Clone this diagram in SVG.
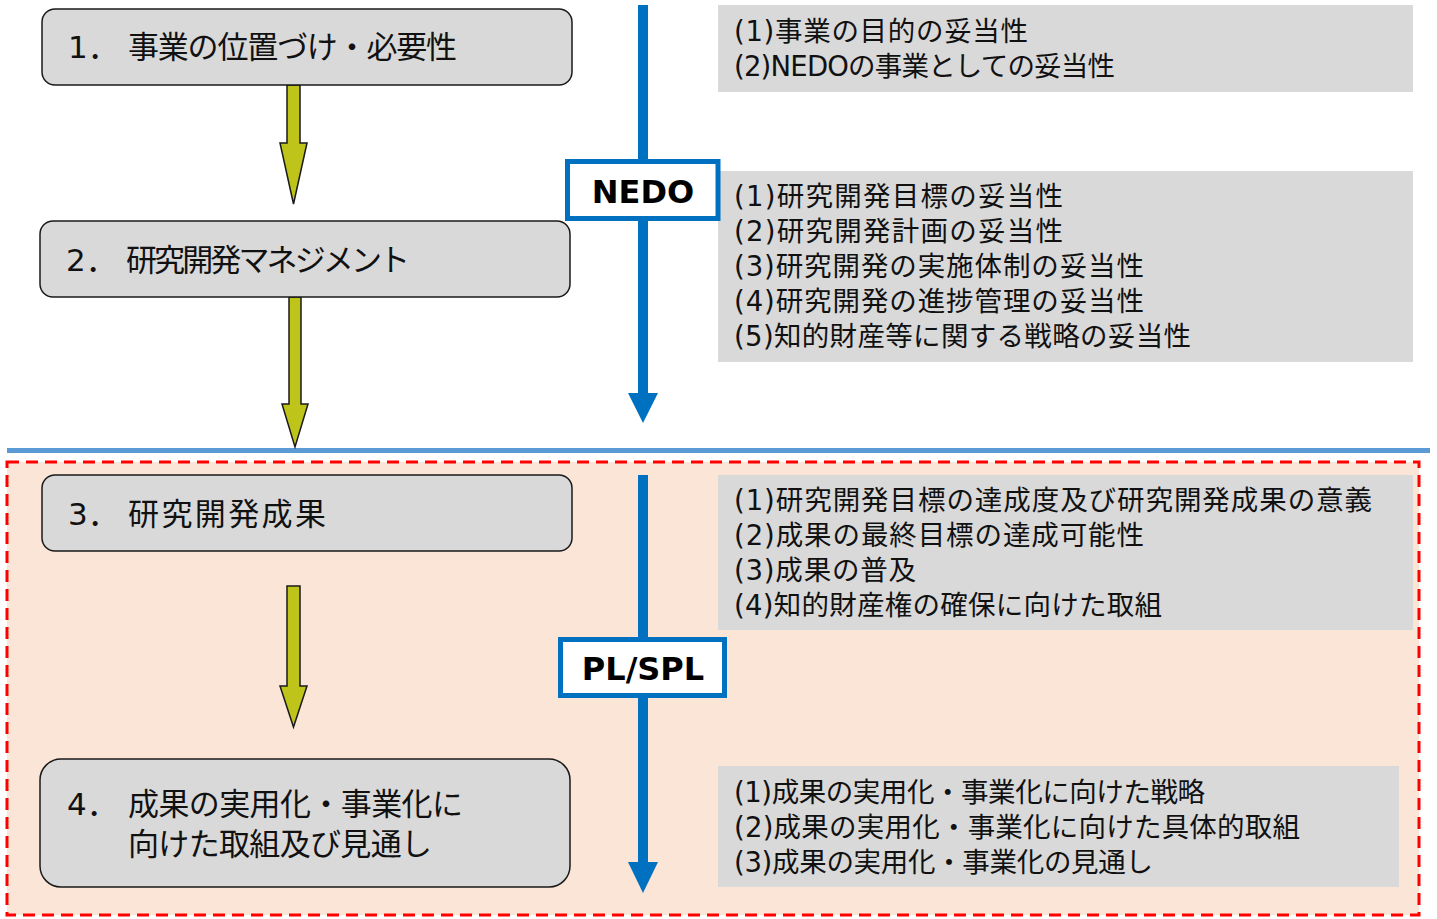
<svg xmlns="http://www.w3.org/2000/svg" width="1437" height="919" viewBox="0 0 1437 919">
<style>
.node{fill:#D9D9D9;stroke:#1a1a1a;stroke-width:1.5}
.nt{font-family:"DejaVu Sans","Noto Sans CJK JP",sans-serif;font-size:31px;fill:#111}
.box{fill:#D9D9D9}
.bt{font-family:"DejaVu Sans","Noto Sans CJK JP",sans-serif;font-size:27.5px;fill:#111}
.ya{fill:#BFC41B;stroke:#1a1a1a;stroke-width:1.5;stroke-linejoin:miter}
.bl{stroke:#0070C0;stroke-width:10;fill:none}
.bh{fill:#0070C0}
.lab{fill:#fff;stroke:#0070C0;stroke-width:5}
.lt{font-family:"DejaVu Sans","Noto Sans CJK JP",sans-serif;font-size:32px;font-weight:bold;fill:#000;text-anchor:middle}
</style>
<rect width="1437" height="919" fill="#fff"/>
<g id="area">
<rect x="7" y="462" width="1412" height="453" fill="#FBE5D6" stroke="#FF0000" stroke-width="3" stroke-dasharray="12 7"/>
</g>
<line id="separator" x1="7" y1="450.5" x2="1430" y2="450.5" stroke="#5B9BD5" stroke-width="5"/>
<g id="boxA"><rect class="box" x="718" y="5" width="695" height="87"/>
<text class="bt" x="734" y="41" textLength="294" lengthAdjust="spacing">(1)事業の目的の妥当性</text>
<text class="bt" x="734" y="76" textLength="381" lengthAdjust="spacing">(2)NEDOの事業としての妥当性</text></g>
<g id="boxB"><rect class="box" x="718" y="171" width="695" height="191"/>
<text class="bt" x="734" y="206" textLength="329" lengthAdjust="spacing">(1)研究開発目標の妥当性</text>
<text class="bt" x="734" y="241" textLength="329" lengthAdjust="spacing">(2)研究開発計画の妥当性</text>
<text class="bt" x="734" y="276" textLength="410" lengthAdjust="spacing">(3)研究開発の実施体制の妥当性</text>
<text class="bt" x="734" y="311" textLength="410" lengthAdjust="spacing">(4)研究開発の進捗管理の妥当性</text>
<text class="bt" x="734" y="346" textLength="457" lengthAdjust="spacing">(5)知的財産等に関する戦略の妥当性</text></g>
<g id="boxC"><rect class="box" x="718" y="475" width="695" height="155"/>
<text class="bt" x="734" y="510" textLength="638" lengthAdjust="spacing">(1)研究開発目標の達成度及び研究開発成果の意義</text>
<text class="bt" x="734" y="545" textLength="410" lengthAdjust="spacing">(2)成果の最終目標の達成可能性</text>
<text class="bt" x="734" y="580" textLength="182" lengthAdjust="spacing">(3)成果の普及</text>
<text class="bt" x="734" y="615" textLength="428" lengthAdjust="spacing">(4)知的財産権の確保に向けた取組</text></g>
<g id="boxD"><rect class="box" x="718" y="766" width="681" height="121"/>
<text class="bt" x="734" y="802" textLength="471" lengthAdjust="spacing">(1)成果の実用化・事業化に向けた戦略</text>
<text class="bt" x="734" y="837" textLength="566" lengthAdjust="spacing">(2)成果の実用化・事業化に向けた具体的取組</text>
<text class="bt" x="734" y="872" textLength="419" lengthAdjust="spacing">(3)成果の実用化・事業化の見通し</text></g>
<g id="connectors">
<polygon class="ya" points="287,85 300,85 300,143 307,143 293.5,204 280,143 287,143"/>
<polygon class="ya" points="289,297 301,297 301,404 308,404 295,447 282,404 289,404"/>
<polygon class="ya" points="287,586 300,586 300,686 307,686 293.5,727 280,686 287,686"/>
<line class="bl" x1="643" y1="5" x2="643" y2="395"/>
<polygon class="bh" points="628,393 658,393 643,423"/>
<line class="bl" x1="643" y1="475" x2="643" y2="864"/>
<polygon class="bh" points="628,862 658,862 643,893"/>
</g>
<g id="nedo"><rect class="lab" x="567.5" y="161.5" width="150.5" height="57"/>
<text class="lt" x="643" y="203">NEDO</text></g>
<g id="plspl"><rect class="lab" x="560.5" y="639.5" width="164" height="56"/>
<text class="lt" x="643" y="680">PL/SPL</text></g>
<g id="node1"><rect class="node" x="42" y="9" width="530" height="76" rx="13"/>
<text class="nt" x="68" y="58">1．</text><text class="nt" x="128" y="58" textLength="329" lengthAdjust="spacing">事業の位置づけ・必要性</text></g>
<g id="node2"><rect class="node" x="40" y="221" width="530" height="76" rx="13"/>
<text class="nt" x="66" y="271">2．</text><text class="nt" x="126" y="271" textLength="284" lengthAdjust="spacing">研究開発マネジメント</text></g>
<g id="node3"><rect class="node" x="42" y="475" width="530" height="76" rx="13"/>
<text class="nt" x="68" y="525">3．</text><text class="nt" x="128" y="525" textLength="198" lengthAdjust="spacing">研究開発成果</text></g>
<g id="node4"><rect class="node" x="40" y="759" width="530" height="128" rx="21"/>
<text class="nt" x="67" y="815">4．</text><text class="nt" x="128" y="815" textLength="335" lengthAdjust="spacing">成果の実用化・事業化に</text>
<text class="nt" x="128" y="855" textLength="304" lengthAdjust="spacing">向けた取組及び見通し</text></g>
</svg>
